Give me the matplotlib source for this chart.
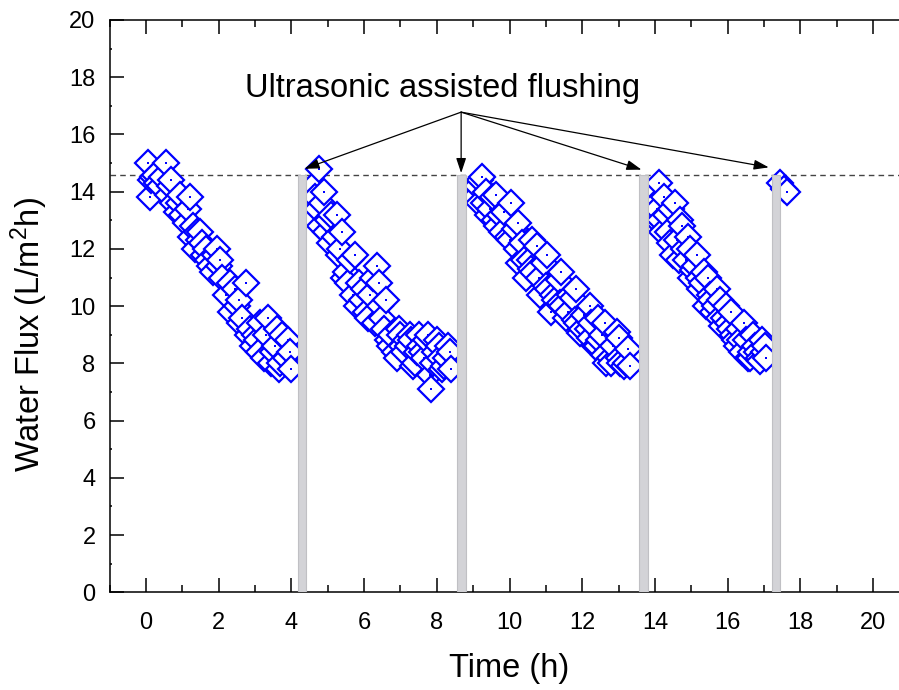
import numpy as np
import matplotlib
matplotlib.use("Agg")
import matplotlib.pyplot as plt
from matplotlib.ticker import MultipleLocator

plt.rcParams['font.family'] = ['Liberation Sans', 'DejaVu Sans']
plt.rcParams['mathtext.default'] = 'regular'

# datos (tiempo en h, flujo en L/m2h)
seg1_x = [0.05, 0.1, 0.15, 0.2, 0.25, 0.3, 0.4, 0.45, 0.55, 0.6, 0.65, 0.7, 0.75, 0.85, 0.9,
          0.95, 1.0, 1.1, 1.15, 1.2, 1.25, 1.3, 1.35, 1.4, 1.45, 1.5, 1.55, 1.6, 1.65, 1.7,
          1.75, 1.85, 1.9, 1.95, 2.0, 2.05, 2.1, 2.2, 2.3, 2.35, 2.45, 2.5, 2.55, 2.6, 2.65,
          2.75, 2.8, 2.85, 2.95, 3.0, 3.05, 3.1, 3.15, 3.25, 3.3, 3.35, 3.45, 3.5, 3.55, 3.6,
          3.65, 3.7, 3.75, 3.85, 3.9, 3.95, 4.0]
seg1_y = [15.0, 13.8, 14.4, 14.5, 14.6, 14.3, 14.2, 14.5, 15.0, 13.9, 14.2, 14.4, 13.6, 13.3, 13.6,
          13.9, 13.2, 12.9, 13.4, 13.8, 12.4, 12.8, 12.0, 12.6, 12.3, 12.6, 12.2, 11.8, 12.0, 11.6,
          11.4, 11.2, 11.8, 12.0, 11.4, 11.6, 11.0, 10.4, 10.8, 9.8, 10.6, 10.0, 10.2, 9.4, 9.6,
          10.8, 9.0, 9.2, 8.6, 9.0, 8.8, 8.4, 9.4, 8.2, 9.0, 9.6, 8.0, 8.4, 8.6, 9.2,
          7.8, 8.0, 9.0, 8.2, 8.8, 8.4, 7.8]

seg2_x = [4.6, 4.65, 4.7, 4.75, 4.8, 4.85, 4.9, 4.95, 5.0, 5.05, 5.1, 5.2, 5.25, 5.3, 5.35,
          5.4, 5.45, 5.5, 5.55, 5.6, 5.7, 5.75, 5.8, 5.85, 5.95, 6.0, 6.05, 6.1, 6.15, 6.25,
          6.3, 6.35, 6.4, 6.45, 6.5, 6.55, 6.6, 6.65, 6.7, 6.75, 6.85, 6.9, 6.95, 7.0, 7.05,
          7.1, 7.15, 7.2, 7.25, 7.3, 7.35, 7.4, 7.45, 7.5, 7.55, 7.6, 7.65, 7.7, 7.75, 7.8,
          7.85, 7.9, 7.95, 8.0, 8.05, 8.1, 8.15, 8.2, 8.25, 8.3, 8.35, 8.4]
seg2_y = [14.2, 13.8, 13.4, 14.8, 12.8, 13.6, 14.0, 12.6, 13.0, 12.2, 13.2, 12.4, 13.2, 11.8, 12.0,
          12.6, 11.0, 11.2, 10.8, 11.6, 10.4, 11.8, 10.0, 10.8, 10.2, 10.6, 9.8, 9.6, 10.4, 11.0,
          9.4, 11.4, 10.8, 10.0, 9.6, 9.2, 10.2, 8.8, 8.6, 9.0, 8.4, 8.2, 9.2, 9.0, 8.6,
          8.4, 8.8, 8.6, 9.0, 8.8, 7.9, 8.0, 8.4, 9.0, 8.6, 8.4, 8.2, 8.8, 9.0, 7.6,
          7.1, 8.0, 8.4, 8.8, 8.6, 8.2, 7.8, 7.9, 8.2, 8.6, 8.4, 7.8]

seg3_x = [9.05, 9.1, 9.15, 9.2, 9.25, 9.3, 9.35, 9.4, 9.45, 9.55, 9.6, 9.62, 9.65, 9.75, 9.8,
          9.85, 9.95, 10.0, 10.05, 10.15, 10.2, 10.22, 10.25, 10.35, 10.4, 10.45, 10.55, 10.6, 10.62, 10.65,
          10.75, 10.8, 10.85, 10.95, 11.0, 11.02, 11.05, 11.15, 11.2, 11.25, 11.35, 11.4, 11.42, 11.45, 11.55,
          11.6, 11.65, 11.75, 11.8, 11.82, 11.85, 11.95, 12.0, 12.05, 12.15, 12.2, 12.22, 12.25, 12.35, 12.4,
          12.42, 12.45, 12.55, 12.6, 12.62, 12.65, 12.75, 12.8, 12.85, 12.95, 13.0, 13.02, 13.05, 13.15, 13.2,
          13.25, 13.3]
seg3_y = [13.8, 14.2, 13.6, 14.4, 14.5, 13.6, 14.0, 13.2, 13.4, 13.8, 13.0, 13.9, 12.8, 13.2, 12.6,
          13.3, 12.4, 12.3, 13.6, 12.7, 12.0, 12.9, 11.5, 12.2, 11.6, 11.0, 11.6, 11.3, 12.3, 11.2,
          12.1, 11.0, 10.4, 11.5, 10.7, 11.8, 10.6, 9.8, 10.4, 10.2, 10.9, 10.1, 11.2, 10.0, 9.6,
          9.8, 10.4, 10.3, 9.5, 10.6, 9.4, 9.05, 9.2, 9.7, 9.2, 8.9, 10.0, 9.4, 8.6, 8.6,
          9.6, 8.8, 9.0, 8.3, 9.4, 8.0, 8.2, 8.0, 8.6, 9.1, 8.2, 8.9, 8.0, 7.9, 8.0,
          8.5, 7.9]

seg4_x = [14.0, 14.02, 14.05, 14.1, 14.12, 14.15, 14.2, 14.25, 14.3, 14.35, 14.4, 14.45, 14.5, 14.55, 14.6,
          14.65, 14.7, 14.75, 14.8, 14.85, 14.9, 14.95, 15.0, 15.05, 15.1, 15.15, 15.2, 15.25, 15.3, 15.35,
          15.4, 15.45, 15.5, 15.55, 15.6, 15.65, 15.7, 15.75, 15.8, 15.85, 15.9, 15.95, 16.0, 16.05, 16.1,
          16.15, 16.2, 16.25, 16.3, 16.35, 16.4, 16.45, 16.5, 16.55, 16.6, 16.65, 16.7, 16.75, 16.8, 16.85,
          16.9, 16.95, 17.0, 17.02, 17.05]
seg4_y = [14.0, 13.6, 13.4, 14.3, 12.9, 13.0, 12.6, 13.8, 13.2, 12.6, 12.2, 13.4, 11.8, 13.6, 12.3,
          11.6, 13.0, 12.8, 12.0, 11.6, 12.4, 12.0, 11.0, 11.25, 11.4, 11.8, 11.0, 10.6, 10.8, 11.2,
          10.0, 11.0, 10.4, 10.2, 9.8, 10.0, 10.6, 9.6, 10.2, 9.3, 9.6, 10.0, 9.4, 9.2, 9.8,
          9.0, 8.8, 8.6, 9.2, 8.8, 8.4, 9.4, 8.8, 8.2, 8.2, 8.4, 9.0, 8.6, 8.4, 8.2,
          8.1, 8.8, 8.4, 8.6, 8.2]

seg5_x = [17.45, 17.55, 17.62]
seg5_y = [14.3, 14.1, 14.0]

# lavados con ultrasonido
lavado_x = [4.29, 8.68, 13.69, 17.33]
flujo_inicial = 14.58
texto_x, texto_y = 8.67, 16.78
flecha_x = [4.36, 8.67, 13.63, 17.13]
flecha_y = [14.8, 14.65, 14.77, 14.85]

tiempo = seg1_x + seg2_x + seg3_x + seg4_x + seg5_x
flujo = seg1_y + seg2_y + seg3_y + seg4_y + seg5_y

fig = plt.figure(figsize=(8.99, 6.90), dpi=100)
ax = fig.add_axes([109.5 / 899, 1 - 592.3 / 690, 800 / 899, 572.3 / 690])

# cada punto: rombo y luego su punto central (como Origin)
for xi, yi in zip(tiempo, flujo):
    ax.plot([xi], [yi], marker='D', ms=13.5, mfc='white', mec='#0000ff', mew=1.6,
            linestyle='none', zorder=3, clip_on=False)
    ax.plot([xi], [yi], marker='s', ms=1.5, mfc='#0000ff', mec='#0000ff', mew=0,
            linestyle='none', zorder=3, clip_on=False)

ax.bar(lavado_x, [flujo_inicial] * len(lavado_x), width=0.24, color='#d3d3d7',
       edgecolor='#c0c0c4', linewidth=0.8, zorder=4)

ax.axhline(flujo_inicial, color='#444444', lw=1.0, ls=(0, (4, 3)), zorder=2)

for fx, fy in zip(flecha_x, flecha_y):
    ax.annotate('', xy=(fx, fy), xytext=(texto_x, texto_y),
                arrowprops=dict(arrowstyle='-|>,head_length=0.9,head_width=0.3',
                                color='black', lw=0.9, shrinkA=0, shrinkB=0),
                zorder=5)
ax.text(443 / 899, 1 - 88 / 690, 'Ultrasonic assisted flushing', transform=fig.transFigure,
        ha='center', va='center', fontsize=23.5)

ax.set_xlim(-1, 21)
ax.set_ylim(0, 20)
ax.xaxis.set_major_locator(MultipleLocator(2))
ax.xaxis.set_minor_locator(MultipleLocator(1))
ax.yaxis.set_major_locator(MultipleLocator(2))
ax.yaxis.set_minor_locator(MultipleLocator(1))
ax.tick_params(which='major', direction='in', length=10, width=1.1, labelsize=17,
               top=True, right=False)
ax.tick_params(which='minor', direction='in', length=5, width=1.1, top=True, right=False)
ax.tick_params(axis='y', which='minor', length=1.5)
ax.tick_params(axis='x', which='major', pad=14)
ax.tick_params(axis='y', which='major', pad=10)
ax.spines['right'].set_visible(False)
for s in ['left', 'bottom', 'top']:
    ax.spines[s].set_linewidth(1.1)

ax.set_xlabel('Time (h)', fontsize=23.5, labelpad=14)
ax.set_ylabel('Water Flux (L/m$^{2}$h)', fontsize=23.5)
ax.yaxis.set_label_coords(-0.074, 0.45)

fig.savefig('out.png', dpi=100)
